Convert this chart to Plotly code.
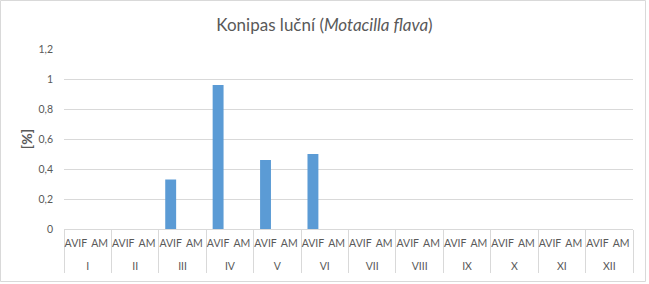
import plotly.graph_objects as go

months = ["I", "II", "III", "IV", "V", "VI", "VII", "VIII", "IX", "X", "XI", "XII"]
subcats = ["AVIF", "AM"]
avif = [0, 0, 0.33, 0.96, 0.46, 0.5, 0, 0, 0, 0, 0, 0]
am = [0, 0, 0, 0, 0, 0, 0, 0, 0, 0, 0, 0]

x_month, x_sub, y_val = [], [], []
for i, m in enumerate(months):
    x_month += [m, m]
    x_sub += [s + "<br>\u00a0" for s in subcats]
    y_val += [avif[i], am[i]]

W, H = 649, 284
ML, MR, MT, MB = 64, 16, 49, 55
PW, PH = W - ML - MR, H - MT - MB

def px_x(p):
    return (p - ML) / PW

def px_y(p):
    return (H - MB - p) / PH

grey = "#595959"
grid = "#d9d9d9"
font = "Lato"

fig = go.Figure(go.Bar(
    x=[x_month, x_sub], y=y_val,
    marker=dict(color="#5b9bd5", line=dict(width=0)),
))

fig.update_layout(
    width=W, height=H,
    margin=dict(l=ML, r=MR, t=MT, b=MB, pad=0),
    paper_bgcolor="white", plot_bgcolor="white",
    separators=", ",
    bargap=0.54,
    showlegend=False,
    title=dict(text="Konipas luční (<i>Motacilla flava</i>)", x=0.5, xanchor="center",
               y=1 - 25 / H, yanchor="middle", yref="container",
               font=dict(family=font, size=17, color=grey)),
    font=dict(family=font, color=grey),
    xaxis=dict(
        type="multicategory", showgrid=False, showline=True, linecolor=grid, linewidth=1,
        tickfont=dict(family=font, size=10.5, color=grey), tickangle=0,
        showdividers=True, dividercolor=grid, dividerwidth=1, ticks="",
        ticklabelstandoff=4,
        automargin=False,
    ),
    yaxis=dict(
        range=[0, 1.2], dtick=0.2, tick0=0, showgrid=True, gridcolor=grid, gridwidth=1,
        zeroline=False, showline=False, ticks="", ticklabelstandoff=10,
        tickfont=dict(family=font, size=10.5, color=grey),
        title=dict(text="<b>[%]</b>", font=dict(family=font, size=14, color=grey), standoff=2),
        automargin=False,
    ),
    shapes=[dict(type="rect", xref="paper", yref="paper",
                 x0=px_x(0.5), x1=px_x(645.5), y0=px_y(281.5), y1=px_y(0.5),
                 line=dict(color=grid, width=1), fillcolor="rgba(0,0,0,0)", layer="below")],
)

fig.write_html("out.html")
